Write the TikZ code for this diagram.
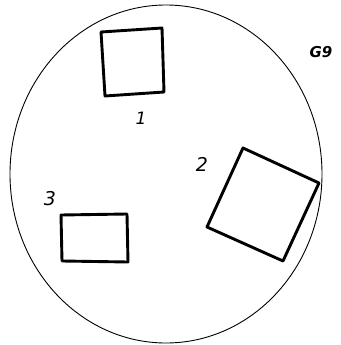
\documentclass[tikz,border=0pt]{standalone}
\usepackage{fontspec}
\setsansfont{DejaVu Sans}
\usetikzlibrary{shapes.geometric}
\begin{document}
\begin{tikzpicture}[x=1pt,y=-1pt,
  boxline/.style={line width=2.9pt,line join=round},
  lbl/.style={inner sep=0pt}]
\useasboundingbox (0,0) rectangle (340,345);
\node[draw,ellipse,line width=0.9pt,minimum width=312pt,minimum height=338pt,inner sep=0pt] (plate) at (166,174) {};
\coordinate (a1) at (101,32); \coordinate (a2) at (162,28);
\coordinate (a3) at (164,92); \coordinate (a4) at (105,96);
\draw[boxline] (a1) -- (a2) -- (a3) -- (a4) -- cycle;
\coordinate (b1) at (243,148); \coordinate (b2) at (319,183);
\coordinate (b3) at (283,261); \coordinate (b4) at (207,227);
\draw[boxline] (b1) -- (b2) -- (b3) -- (b4) -- cycle;
\coordinate (c1) at (61,215); \coordinate (c2) at (127,214);
\coordinate (c3) at (128,262); \coordinate (c4) at (62,261);
\draw[boxline] (c1) -- (c2) -- (c3) -- (c4) -- cycle;
\node[lbl,font=\sffamily\itshape\fontsize{17}{17}\selectfont] (l1) at (141,118) {1};
\node[lbl,font=\sffamily\itshape\fontsize{19}{19}\selectfont] (l2) at (202,164) {2};
\node[lbl,font=\sffamily\itshape\fontsize{19}{19}\selectfont] (l3) at (50,199) {3};
\node[lbl,font=\sffamily\itshape\bfseries\fontsize{15}{15}\selectfont] (g9) at (321,52) {G9};
\end{tikzpicture}
\end{document}
